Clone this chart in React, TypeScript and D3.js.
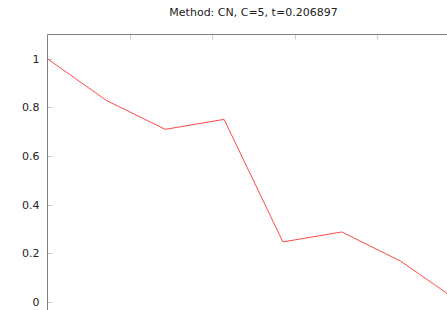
import React, { useRef, useEffect } from 'react';
import * as d3 from 'd3';

const title = 'Method: CN, C=5, t=0.206897';
const xValues = [0, 1 / 7, 2 / 7, 3 / 7, 4 / 7, 5 / 7, 6 / 7, 1];
const yValues = [1.0, 0.829, 0.71, 0.751, 0.247, 0.288, 0.168, 0.0];
const yTicks = [0, 0.2, 0.4, 0.6, 0.8, 1];
const xTicks = [0.2, 0.4, 0.6, 0.8];

const W = 447;
const H = 310;

function App() {
  const svgRef = useRef<SVGSVGElement>(null);

  useEffect(() => {
    const svg = d3.select(svgRef.current);
    svg.selectAll('*').remove();

    const xScale = d3.scaleLinear().domain([0, 1]).range([47.5, 459.5]);
    const yScale = d3.scaleLinear().domain([0, 1.1]).range([302, 34.5]);

    // title
    svg.append('text')
      .attr('x', (xScale(0) + xScale(1)) / 2)
      .attr('y', 16)
      .attr('text-anchor', 'middle')
      .attr('font-family', 'DejaVu Sans')
      .attr('font-size', 11)
      .attr('fill', '#222')
      .text(title);

    // top ticks
    svg.selectAll('.xtick')
      .data(xTicks)
      .enter()
      .append('line')
      .attr('class', 'xtick')
      .attr('x1', d => Math.round(xScale(d)) + 0.5)
      .attr('x2', d => Math.round(xScale(d)) + 0.5)
      .attr('y1', yScale(1.1))
      .attr('y2', yScale(1.1) + 5)
      .attr('stroke', '#c8c8c8');

    // left ticks
    svg.selectAll('.ytick')
      .data(yTicks)
      .enter()
      .append('line')
      .attr('class', 'ytick')
      .attr('x1', xScale(0))
      .attr('x2', xScale(0) + 5)
      .attr('y1', d => Math.round(yScale(d)) + 0.5)
      .attr('y2', d => Math.round(yScale(d)) + 0.5)
      .attr('stroke', '#c8c8c8');

    svg.selectAll('.ylabel')
      .data(yTicks)
      .enter()
      .append('text')
      .attr('class', 'ylabel')
      .attr('x', xScale(0) - 8)
      .attr('y', d => yScale(d))
      .attr('dy', '0.35em')
      .attr('text-anchor', 'end')
      .attr('font-family', 'DejaVu Sans')
      .attr('font-size', 11)
      .attr('fill', '#222')
      .text(d => d3.format('~g')(d));

    // border: top and left
    svg.append('path')
      .attr('d', `M${xScale(0)},${H} V${yScale(1.1)} H${W}`)
      .attr('fill', 'none')
      .attr('stroke', '#808080');

    const line = d3.line<number>()
      .x((d, i) => xScale(xValues[i]))
      .y(d => yScale(d));

    svg.append('path')
      .datum(yValues)
      .attr('d', line)
      .attr('fill', 'none')
      .attr('stroke', '#ff4a4a')
      .attr('stroke-width', 1);
  }, []);

  return (
    <svg ref={svgRef} width={W} height={H}
      style={{ position: 'absolute', left: 0, top: 0, background: '#fff' }} />
  );
}

export default App;
